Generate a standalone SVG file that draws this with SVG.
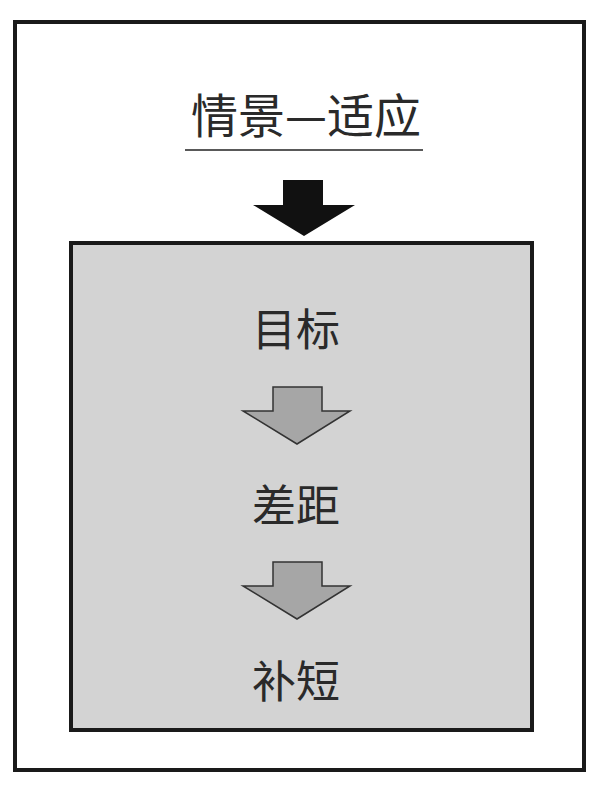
<svg xmlns="http://www.w3.org/2000/svg" width="602" height="789" viewBox="0 0 602 789">
<style>
.t{font-family:"Noto Sans CJK SC","Liberation Sans",sans-serif;font-size:44px;fill:#2a2a2a;text-anchor:middle}
.g{fill:#a6a6a6;stroke:#333;stroke-width:1.5}
</style>
<rect width="602" height="789" fill="#fff"/>
<g id="outer"><rect x="15" y="22" width="569" height="748" fill="none" stroke="#1a1a1a" stroke-width="4"/></g>
<g id="title"><text class="t" x="306" y="133" style="font-size:47px">情景—适应</text>
<line x1="185" y1="150" x2="423" y2="150" stroke="#222" stroke-width="1.5"/></g>
<g id="inner"><rect x="71" y="243" width="461" height="487" fill="#d3d3d3" stroke="#1a1a1a" stroke-width="4"/></g>
<g id="connectors">
<polygon points="283,180 323,180 323,205 355,205 304,236 253,205 283,205" fill="#111"/>
<polygon class="g" points="273,387 322,387 322,411 350,411 297,444 243,411 273,411"/>
<polygon class="g" points="273,562 322,562 322,586 350,586 297,619 243,586 273,586"/>
</g>
<g id="n1"><text class="t" x="296" y="346">目标</text></g>
<g id="n2"><text class="t" x="296" y="522">差距</text></g>
<g id="n3"><text class="t" x="296" y="698">补短</text></g>
</svg>
